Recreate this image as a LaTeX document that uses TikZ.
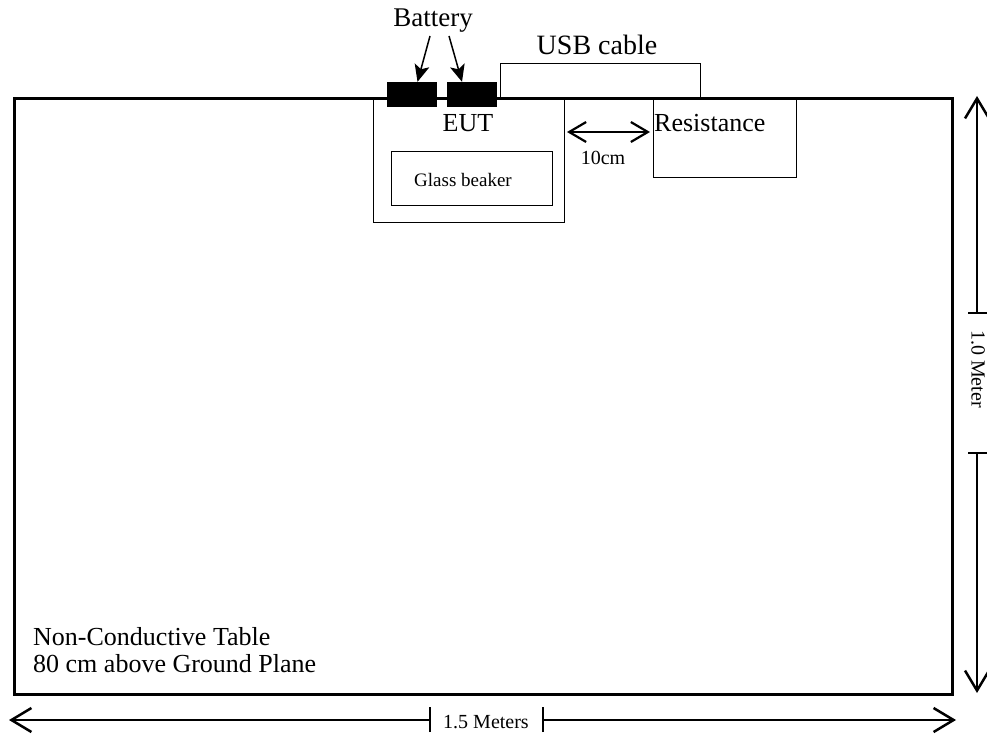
\documentclass[tikz,border=0pt]{standalone}
\usepackage{fontspec}
\setmainfont{Liberation Serif}
\usetikzlibrary{arrows.meta}

\begin{document}
\begin{tikzpicture}[x=1pt, y=-1pt,
    box/.style={draw, line width=1.3pt, inner sep=0pt},
    cell/.style={fill=black, inner sep=0pt, minimum width=50pt, minimum height=25pt},
    big/.style={font=\fontsize{26}{28}\selectfont, inner sep=0pt},
    small/.style={font=\fontsize{20}{22}\selectfont, inner sep=0pt},
    dimline/.style={line width=1.3pt, -{Straight Barb[length=20pt, width=24pt, line width=2.5pt]}},
    pointer/.style={line width=1.5pt, -{Stealth[length=17pt, width=15pt, inset=4pt]}},
    tick/.style={line width=1.5pt}]
    \useasboundingbox (0,0) rectangle (987,738);

    % The table seen from above
    \node[box, line width=3pt, anchor=north west, minimum width=938pt, minimum height=596pt] (table) at (13,97) {};
    \node[big, anchor=base west, align=left] (tabletext) at (33,672) {Non-Conductive Table\\[-1pt]80 cm above Ground Plane};

    % EUT with the beaker inside
    \node[box, anchor=north west, minimum width=191pt, minimum height=125pt] (eut) at (373,97) {};
    \node[big] (eutlabel) at (468,123) {EUT};
    \node[box, anchor=north west, minimum width=161pt, minimum height=54pt] (beaker) at (391,151) {};
    \node[font=\fontsize{19}{21}\selectfont, inner sep=0pt] (beakerlabel) at (463,180) {Glass beaker};

    % Batteries
    \node[cell] (batA) at (411.5,94.5) {};
    \node[cell] (batB) at (472,94.5) {};
    \node[big, font=\fontsize{27}{29}\selectfont] (battery) at (433,21) {Battery};
    \coordinate (pA) at (430,36);
    \coordinate (pB) at (449,36);
    \draw[pointer] (pA) -- ([xshift=6pt]batA.north);
    \draw[pointer] (pB) -- ([xshift=-10pt]batB.north);

    % USB cable to the load
    \node[box, anchor=north west, minimum width=200pt, minimum height=34pt] (usb) at (500,63) {};
    \node[big, font=\fontsize{28}{30}\selectfont] (usblabel) at (597,45) {USB cable};

    % Resistance, 10 cm away
    \node[box, anchor=north west, minimum width=143pt, minimum height=80pt] (load) at (653,97) {};
    \node[big, anchor=west] (loadlabel) at (654,123) {Resistance};
    \coordinate (gapL) at (567,132);
    \coordinate (gapR) at (650,132);
    \draw[line width=1.3pt, {Straight Barb[length=17pt, width=20pt, line width=2.2pt]}-{Straight Barb[length=17pt, width=20pt, line width=2.2pt]}] (gapL) -- (gapR);
    \node[small] (gaplabel) at (603,158) {10cm};

    % 1.0 Meter
    \coordinate (vTop) at (977,96);
    \coordinate (vBot) at (977,693);
    \coordinate (vA) at (977,313);
    \coordinate (vB) at (977,453);
    \draw[dimline] (vA) -- (vTop);
    \draw[dimline] (vB) -- (vBot);
    \draw[tick] ([xshift=-9pt]vA) -- ([xshift=10pt]vA);
    \draw[tick] ([xshift=-9pt]vB) -- ([xshift=10pt]vB);
    \node[small, rotate=-90] (vlabel) at (978,369) {1.0 Meter};

    % 1.5 Meters
    \coordinate (hL) at (9,720);
    \coordinate (hR) at (956,720);
    \coordinate (hA) at (430,720);
    \coordinate (hB) at (543,720);
    \draw[dimline] (hA) -- (hL);
    \draw[dimline] (hB) -- (hR);
    \draw[tick] ([yshift=-12pt]hA) -- ([yshift=13pt]hA);
    \draw[tick] ([yshift=-12pt]hB) -- ([yshift=13pt]hB);
    \node[small] (hlabel) at (486,722) {1.5 Meters};
\end{tikzpicture}
\end{document}
